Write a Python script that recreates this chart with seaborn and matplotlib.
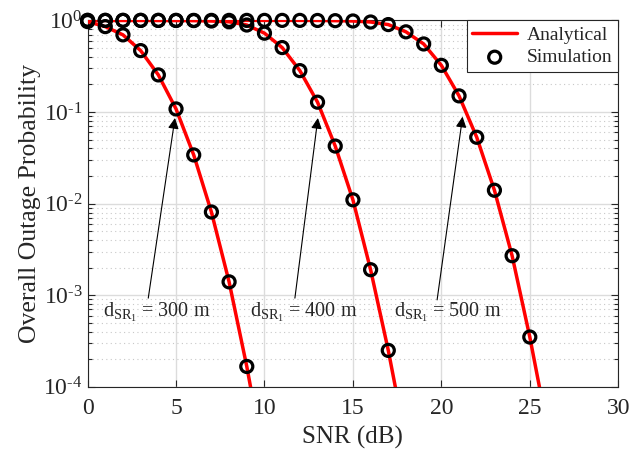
import matplotlib
matplotlib.use("Agg")
import matplotlib.pyplot as plt
import seaborn as sns
import numpy as np

# analytical curves (dB SNR, outage probability)
snr_300 = [0, 1, 2, 3, 4, 5, 6, 7, 8, 9, 10]
ana_300 = [0.97, 0.855, 0.695, 0.468, 0.254, 0.108, 0.034, 0.0081, 0.0014, 1.67e-4, 1.5e-5]

snr_400 = [0, 1, 2, 3, 4, 5, 6, 7, 8, 9, 10, 11, 12, 13, 14, 15, 16, 17, 18]
ana_400 = [1.0, 1.0, 1.0, 1.0, 0.999, 0.998, 0.995, 0.985, 0.965, 0.89, 0.725,
           0.505, 0.283, 0.128, 0.0425, 0.011, 0.0019, 2.5e-4, 2.5e-5]

snr_500 = [0, 1, 2, 3, 4, 5, 6, 7, 8, 9, 10, 11, 12, 13, 14, 15, 16, 17, 18,
           19, 20, 21, 22, 23, 24, 25, 26]
ana_500 = [1.0, 1.0, 1.0, 1.0, 1.0, 1.0, 1.0, 1.0, 1.0, 1.0, 1.0, 1.0, 1.0,
           0.998, 0.993, 0.985, 0.96, 0.90, 0.75, 0.553, 0.323, 0.15, 0.053,
           0.014, 0.0027, 3.5e-4, 3.5e-5]

# simulation points (only those inside the plotted range)
sim_300_x = snr_300[:10]
sim_300_y = ana_300[:10]
sim_400_x = snr_400[:18]
sim_400_y = ana_400[:18]
sim_500_x = snr_500[:26]
sim_500_y = ana_500[:26]

labels = ["300 m", "400 m", "500 m"]
ytick_vals = [1e-4, 1e-3, 1e-2, 1e-1, 1]
ytick_text = [r"10$^{\text{-4}}$", r"10$^{\text{-3}}$", r"10$^{\text{-2}}$",
              r"10$^{\text{-1}}$", r"10$^{\text{0}}$"]
# arrow tip / tail and text anchor per curve
arrow_tips = [(4.94, 0.086), (13.02, 0.086), (21.2, 0.089)]
arrow_tails = [(3.43, 9.3e-4), (11.72, 9.3e-4), (19.76, 8.9e-4)]
text_pos = [(0.85, 6.5e-4), (9.2, 6.5e-4), (17.3, 6.5e-4)]

sns.set_style("ticks")
plt.rcParams["font.family"] = ["Liberation Serif", "DejaVu Serif"]
plt.rcParams["mathtext.fontset"] = "custom"
plt.rcParams["mathtext.rm"] = "Liberation Serif"
plt.rcParams["mathtext.sf"] = "Liberation Serif"
plt.rcParams["mathtext.it"] = "Liberation Serif:italic"

fig = plt.figure(figsize=(6.44, 4.53), dpi=100)
ax = fig.add_axes([0.136, 0.146, 0.824, 0.809])

curves = [(snr_300, ana_300, sim_300_x, sim_300_y),
          (snr_400, ana_400, sim_400_x, sim_400_y),
          (snr_500, ana_500, sim_500_x, sim_500_y)]

for i, (sx, sy, mx, my) in enumerate(curves):
    sns.lineplot(x=sx, y=sy, ax=ax, color="#ff0000", lw=2.5,
                 label="Analytical" if i == 0 else None, zorder=3)
for i, (sx, sy, mx, my) in enumerate(curves):
    sns.scatterplot(x=mx, y=my, ax=ax, marker="o", s=75, facecolor="none",
                    edgecolor="black", linewidth=2.3, zorder=4, clip_on=False,
                    label="Simulation" if i == 0 else None)

ax.set_yscale("log")
ax.set_xlim(0, 30)
ax.set_ylim(1e-4, 1)
ax.set_xticks([0, 5, 10, 15, 20, 25, 30])
ax.set_yticks(ytick_vals)
ax.set_yticklabels(ytick_text)

ax.grid(True, which="major", color="#dcdcdc", lw=1.0)
ax.grid(True, which="minor", axis="y", color="#c8c8c8", lw=0.8, ls=(0, (1, 3)))
ax.tick_params(which="both", direction="in", top=True, right=True,
               labelsize=17, width=0.8)
ax.tick_params(axis="x", pad=8)
ax.tick_params(which="major", length=5)
ax.tick_params(which="minor", length=3)
for sp in ax.spines.values():
    sp.set_color("#262626")
    sp.set_linewidth(0.8)

ax.set_xlabel("SNR (dB)", fontsize=18, labelpad=5)
ax.set_ylabel("Overall Outage Probability", fontsize=18.5, labelpad=2)

for lab, tip, tail, tp in zip(labels, arrow_tips, arrow_tails, text_pos):
    ax.annotate("", xy=tip, xytext=tail,
                arrowprops=dict(arrowstyle="-|>", color="black", lw=0.8,
                                mutation_scale=16, shrinkA=0, shrinkB=0))
    ax.text(tp[0], tp[1], r"d$_{\mathrm{SR}_1}$ = " + lab, fontsize=14.5,
            va="center", ha="left", zorder=5)

leg = ax.legend(loc="upper right", fontsize=14, frameon=True, fancybox=False,
                borderaxespad=0.0, handlelength=2.3, borderpad=0.3,
                labelspacing=0.25, handletextpad=0.5, framealpha=1)
leg.get_frame().set_edgecolor("#262626")
leg.get_frame().set_linewidth(0.8)

fig.savefig("out.png", dpi=100)
